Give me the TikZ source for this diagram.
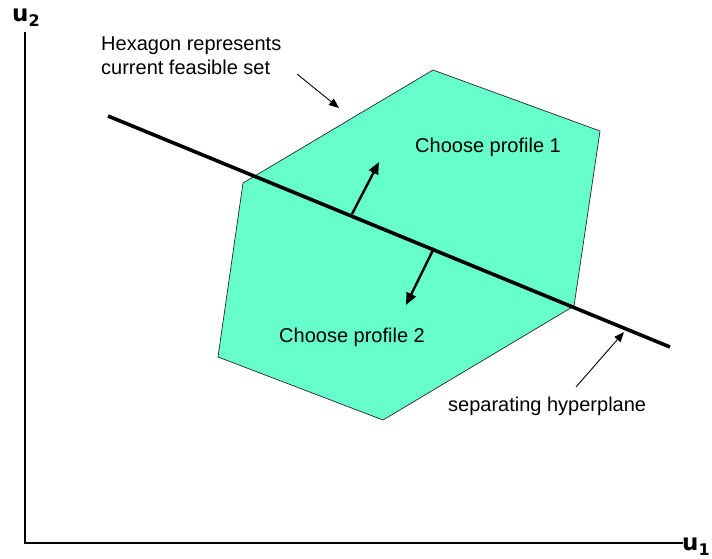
\documentclass[tikz,border=0pt]{standalone}
\usepackage{fontspec}
\setmainfont{Liberation Sans}
\newfontfamily\axisfont{DejaVu Sans}
\usetikzlibrary{arrows.meta}
\definecolor{feasible}{HTML}{66FFCC}
\tikzset{
  label text/.style={font=\fontsize{20}{23.5}\selectfont, inner sep=0pt, anchor=base west},
  axis label/.style={font=\axisfont\bfseries\fontsize{23}{23}\selectfont, inner sep=0pt, anchor=base west},
  axis line/.style={line width=1.5pt},
  hexagon/.style={fill=feasible, draw=black!85, line width=0.7pt, line join=miter},
  plane/.style={line width=3.6pt},
  normal arrow/.style={line width=2.4pt, -{Triangle[length=12pt,width=10pt]}},
  pointer/.style={line width=0.9pt, -{Triangle[length=10pt,width=8pt]}},
}
\newcommand{\axissub}[1]{\raisebox{-5pt}{\fontsize{16}{16}\selectfont #1}}
\begin{document}
\begin{tikzpicture}[x=1pt,y=-1pt]
\useasboundingbox (0,0) rectangle (712,558);

% axes
\coordinate (top) at (25,32);
\coordinate (origin) at (25,543);
\coordinate (right) at (683,543);
\draw[axis line] (top) -- (origin) -- (right);
\node[axis label] (u2) at (12,21) {u\axissub{2}};
\node[axis label] (u1) at (682,550) {u\axissub{1}};

% feasible set
\coordinate (h1) at (433,70);
\coordinate (h2) at (600,131);
\coordinate (h3) at (574,306);
\coordinate (h4) at (383,420);
\coordinate (h5) at (218,357);
\coordinate (h6) at (243,183);
\draw[hexagon] (h1) -- (h2) -- (h3) -- (h4) -- (h5) -- (h6) -- cycle;

% separating hyperplane
\coordinate (pa) at (108,116);
\coordinate (pb) at (670,347);
\draw[plane] (pa) -- (pb);

% normal directions
\coordinate (n1s) at (352,214);
\coordinate (n1e) at (379,162);
\coordinate (n2s) at (434,248);
\coordinate (n2e) at (406,305);
\draw[normal arrow] (n1s) -- (n1e);
\draw[normal arrow] (n2s) -- (n2e);

% texts (base anchor of the two-line note sits on its last line)
\node[label text, align=left] (hex) at (101,74) {Hexagon represents\\current feasible set};
\node[label text] (c1) at (415,152) {Choose profile 1};
\node[label text] (c2) at (279,342) {Choose profile 2};
\node[label text] (sep) at (448,411) {separating hyperplane};

% pointers
\coordinate (p1s) at (297,74);
\coordinate (p1e) at (339,108);
\coordinate (p2s) at (576,387);
\coordinate (p2e) at (624,332);
\draw[pointer] (p1s) -- (p1e);
\draw[pointer] (p2s) -- (p2e);
\end{tikzpicture}
\end{document}
